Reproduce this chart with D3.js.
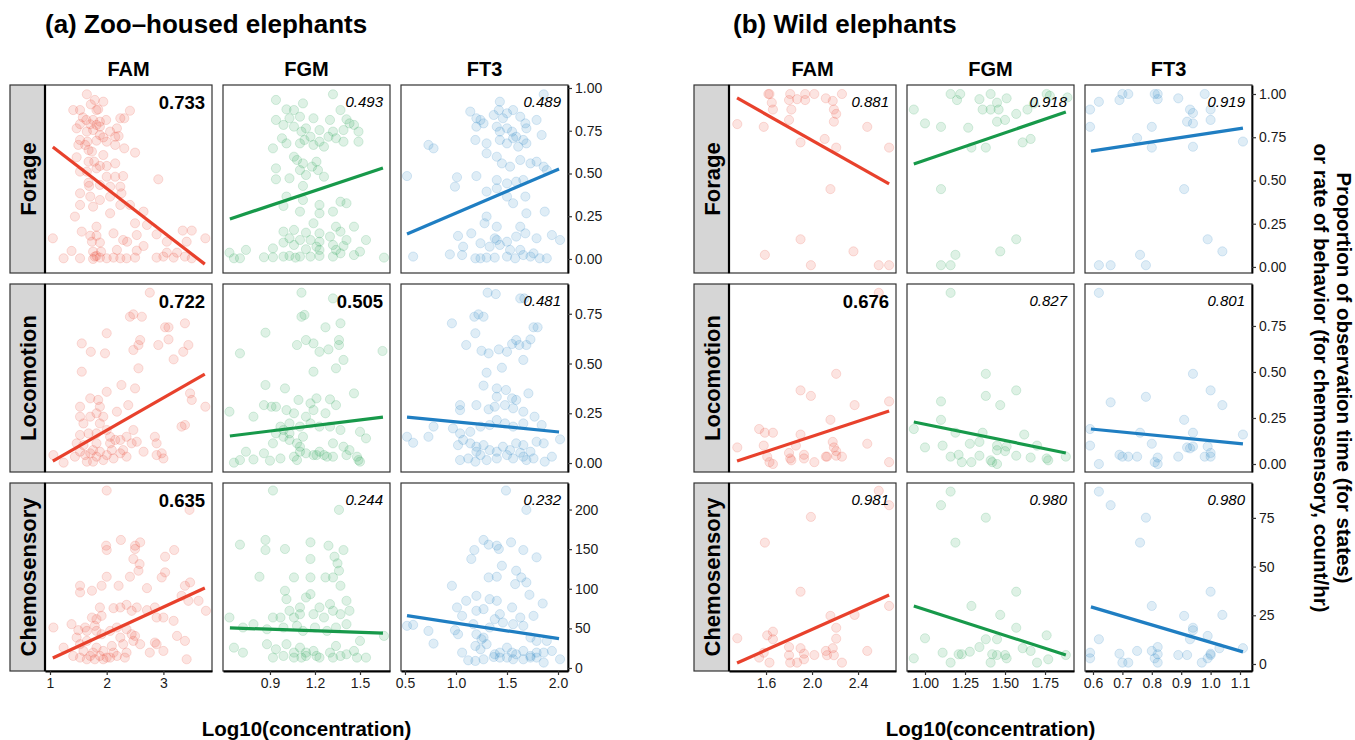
<!DOCTYPE html>
<html>
<head>
<meta charset="utf-8">
<script src="https://cdn.jsdelivr.net/npm/d3@7"></script>
<style>
  body { margin: 0; background: #fff; }
  text { font-family: "Liberation Sans", Arial, Helvetica, sans-serif; }
</style>
</head>
<body>
<div id="chart"></div>
<script>
// 1: DATA
const behaviors = ["Forage", "Locomotion", "Chemosensory"];
const hormones = ["FAM", "FGM", "FT3"];
const hormoneColors = ["#E8412C", "#17994A", "#1F7EC2"];

// zoo-housed elephants, [log10 concentration, behavior]
const zooForageFAM = [[1.65,0.963],[1.72,0.904],[1.79,0.93],[1.85,0.875],[1.41,0.871],[1.53,0.871],[1.82,0.871],[1.94,0.92],[1.58,0.828],[1.64,0.813],[1.76,0.813],[1.88,0.803],[1.99,0.813],[2.24,0.823],[2.31,0.823],[2.41,0.867],[1.53,0.789],[1.71,0.788],[1.82,0.784],[1.88,0.774],[2.06,0.745],[2.18,0.764],[1.47,0.764],[1.65,0.745],[1.76,0.754],[1.88,0.725],[1.94,0.711],[2.15,0.715],[2.21,0.719],[1.53,0.696],[1.66,0.686],[1.82,0.692],[2.00,0.686],[1.50,0.667],[1.62,0.667],[2.15,0.667],[2.31,0.647],[2.50,0.622],[1.68,0.637],[1.74,0.628],[1.94,0.608],[1.47,0.595],[1.68,0.569],[1.78,0.569],[1.88,0.544],[2.00,0.544],[2.15,0.559],[1.82,0.530],[1.53,0.511],[1.65,0.511],[2.15,0.481],[2.29,0.485],[2.00,0.481],[2.91,0.466],[1.68,0.446],[1.69,0.427],[1.88,0.433],[2.06,0.423],[2.24,0.423],[1.53,0.384],[1.71,0.365],[1.88,0.345],[2.06,0.365],[2.26,0.384],[1.53,0.316],[1.76,0.306],[2.24,0.316],[2.41,0.316],[1.44,0.248],[2.06,0.267],[2.65,0.277],[2.50,0.209],[2.71,0.199],[1.82,0.189],[1.56,0.160],[1.82,0.136],[1.71,0.136],[2.12,0.150],[2.29,0.111],[2.36,0.101],[2.53,0.140],[1.88,0.096],[1.05,0.121],[1.74,0.101],[2.88,0.144],[3.34,0.166],[3.50,0.166],[3.06,0.101],[3.41,0.101],[3.74,0.121],[2.65,0.076],[1.38,0.047],[1.76,0.043],[1.90,0.043],[2.18,0.053],[2.53,0.049],[3.06,0.037],[3.24,0.037],[1.24,0.004],[1.53,0.004],[1.79,0.014],[1.88,0.008],[2.00,0.004],[2.12,0.008],[2.24,0.004],[2.35,0.004],[2.50,0.008],[2.88,0.008],[3.00,0.014],[3.18,0.008],[3.38,0.014],[3.50,0.004],[1.82,0.018],[1.76,0.000]];
const zooForageFGM = [[0.94,0.93],[1.01,0.875],[1.06,0.871],[1.12,0.910],[1.32,0.963],[0.94,0.813],[1.03,0.823],[1.10,0.832],[1.19,0.823],[1.30,0.813],[1.37,0.871],[1.41,0.817],[1.43,0.793],[0.99,0.784],[1.06,0.774],[1.11,0.745],[1.14,0.764],[1.23,0.754],[1.32,0.745],[1.39,0.754],[1.46,0.784],[1.49,0.745],[0.92,0.647],[0.98,0.706],[1.13,0.696],[1.17,0.715],[1.23,0.686],[1.29,0.715],[1.34,0.706],[1.39,0.686],[1.49,0.686],[1.01,0.676],[1.10,0.676],[1.19,0.667],[1.26,0.657],[1.06,0.598],[1.08,0.579],[1.12,0.559],[1.18,0.540],[1.21,0.569],[0.94,0.530],[1.10,0.520],[1.22,0.520],[0.94,0.466],[1.03,0.472],[1.14,0.491],[1.26,0.481],[1.12,0.427],[1.01,0.365],[1.12,0.345],[0.99,0.310],[1.23,0.316],[1.37,0.335],[1.41,0.326],[1.10,0.277],[1.23,0.267],[1.32,0.277],[1.19,0.209],[1.34,0.189],[1.46,0.189],[0.99,0.160],[1.06,0.170],[1.14,0.154],[1.23,0.150],[1.30,0.131],[1.37,0.160],[1.03,0.121],[1.10,0.111],[1.17,0.111],[1.23,0.101],[1.41,0.111],[1.54,0.111],[0.99,0.096],[1.06,0.082],[1.21,0.072],[1.32,0.082],[1.39,0.076],[0.92,0.062],[1.14,0.057],[1.23,0.053],[1.34,0.053],[1.50,0.043],[0.63,0.037],[0.74,0.053],[0.86,0.010],[0.92,0.010],[0.99,0.014],[1.07,0.008],[1.10,0.014],[1.17,0.014],[1.32,0.014],[1.37,0.033],[0.66,0.004],[0.70,0.004],[1.46,0.023],[1.66,0.008],[1.03,0.018],[1.23,0.018]];
const zooForageFT3 = [[1.86,0.963],[1.43,0.92],[1.14,0.862],[1.20,0.823],[1.24,0.813],[1.27,0.793],[1.37,0.842],[1.42,0.871],[1.46,0.823],[1.50,0.852],[1.56,0.871],[1.63,0.832],[1.68,0.793],[1.79,0.813],[1.84,0.725],[1.40,0.774],[1.43,0.745],[1.50,0.764],[1.55,0.745],[1.59,0.715],[1.66,0.696],[1.69,0.764],[1.20,0.774],[0.73,0.667],[0.78,0.647],[1.19,0.696],[1.30,0.676],[1.43,0.696],[1.50,0.676],[1.56,0.706],[1.61,0.657],[1.69,0.676],[1.30,0.618],[1.40,0.598],[1.45,0.559],[1.53,0.540],[1.63,0.579],[1.73,0.559],[1.79,0.569],[1.86,0.540],[1.89,0.520],[0.52,0.485],[1.01,0.478],[1.20,0.485],[1.40,0.462],[1.50,0.442],[1.59,0.452],[1.66,0.462],[0.99,0.423],[1.30,0.394],[1.40,0.413],[1.50,0.365],[1.56,0.326],[1.68,0.365],[1.30,0.248],[1.69,0.267],[1.28,0.209],[1.40,0.189],[1.63,0.189],[1.87,0.277],[1.02,0.135],[1.15,0.150],[1.24,0.092],[1.38,0.121],[1.40,0.111],[1.50,0.101],[1.59,0.131],[1.68,0.150],[1.79,0.121],[1.94,0.140],[2.02,0.111],[1.07,0.072],[1.33,0.072],[1.43,0.082],[1.53,0.053],[1.63,0.053],[1.76,0.033],[0.58,0.014],[0.94,0.027],[1.06,0.023],[1.19,0.004],[1.24,0.004],[1.30,0.008],[1.38,0.008],[1.50,0.014],[1.58,0.004],[1.66,0.023],[1.73,0.014],[1.82,0.004],[1.89,0.004]];

const zooLocoFAM = [[2.76,0.856],[2.41,0.735],[2.47,0.747],[2.62,0.735],[2.00,0.652],[1.56,0.601],[1.72,0.559],[1.97,0.551],[2.59,0.618],[2.56,0.593],[2.47,0.568],[2.91,0.593],[3.03,0.682],[3.09,0.682],[3.09,0.621],[3.38,0.702],[3.44,0.593],[3.35,0.559],[3.18,0.521],[2.56,0.476],[1.56,0.459],[2.00,0.358],[2.26,0.392],[2.50,0.375],[1.53,0.283],[1.71,0.325],[1.85,0.317],[1.88,0.283],[2.18,0.258],[2.38,0.291],[3.47,0.350],[3.74,0.283],[3.50,0.317],[1.53,0.233],[1.71,0.233],[1.82,0.250],[1.94,0.233],[1.88,0.199],[1.59,0.199],[1.68,0.149],[1.53,0.141],[1.82,0.149],[2.00,0.166],[2.06,0.132],[2.24,0.116],[2.35,0.132],[2.47,0.166],[2.44,0.099],[2.53,0.107],[2.65,0.057],[2.85,0.132],[2.88,0.099],[3.32,0.183],[3.38,0.191],[2.88,0.040],[3.00,0.023],[2.97,0.049],[1.06,0.040],[1.24,0.002],[1.44,0.032],[1.53,0.057],[1.62,0.040],[1.71,0.049],[1.76,0.065],[1.82,0.032],[1.88,0.057],[1.94,0.015],[2.00,0.040],[2.09,0.065],[2.12,0.023],[2.24,0.049],[2.29,0.065],[2.35,0.032],[1.65,0.007],[1.76,0.007],[1.47,0.099],[1.59,0.090],[1.82,0.099],[2.06,0.099],[2.15,0.116]];
const zooLocoFGM = [[1.11,0.856],[1.32,0.827],[1.11,0.735],[1.13,0.744],[0.87,0.655],[1.27,0.682],[1.37,0.702],[0.70,0.551],[1.08,0.593],[1.14,0.618],[1.19,0.601],[1.29,0.571],[1.23,0.559],[1.36,0.618],[1.36,0.593],[1.39,0.518],[1.65,0.563],[1.34,0.476],[1.19,0.459],[0.87,0.392],[1.00,0.375],[0.91,0.283],[0.86,0.291],[0.94,0.283],[1.09,0.317],[1.17,0.300],[1.21,0.325],[1.30,0.320],[1.34,0.291],[1.46,0.350],[0.63,0.258],[0.79,0.233],[1.01,0.266],[1.06,0.250],[1.14,0.233],[1.19,0.266],[1.27,0.250],[0.97,0.183],[1.03,0.199],[1.10,0.183],[1.17,0.199],[1.23,0.183],[1.30,0.183],[1.37,0.166],[1.50,0.157],[1.54,0.124],[0.74,0.057],[0.86,0.049],[0.92,0.099],[0.99,0.132],[1.03,0.116],[1.08,0.099],[1.10,0.082],[1.12,0.132],[1.14,0.049],[1.19,0.040],[1.23,0.057],[1.28,0.032],[1.32,0.099],[1.39,0.082],[1.43,0.065],[1.48,0.032],[1.50,0.007],[0.66,0.002],[0.70,0.015],[0.79,0.018],[0.90,0.012],[0.97,0.023],[1.06,0.032],[1.08,0.015],[1.10,0.057],[1.21,0.040],[1.26,0.040],[1.32,0.032],[1.41,0.040],[1.49,0.015],[0.94,0.149],[0.99,0.166],[1.03,0.149]];
const zooLocoFT3 = [[1.31,0.856],[1.39,0.849],[1.63,0.827],[1.67,0.827],[0.96,0.702],[1.18,0.735],[1.22,0.747],[1.27,0.735],[1.19,0.652],[1.10,0.593],[1.25,0.564],[1.32,0.551],[1.42,0.571],[1.50,0.559],[1.55,0.598],[1.59,0.618],[1.62,0.593],[1.69,0.593],[1.73,0.621],[1.66,0.518],[1.76,0.682],[1.80,0.682],[1.30,0.454],[1.45,0.479],[1.27,0.389],[1.40,0.375],[1.49,0.367],[1.40,0.333],[1.55,0.325],[1.59,0.317],[1.71,0.350],[1.04,0.291],[1.04,0.266],[1.20,0.291],[1.32,0.270],[1.38,0.283],[1.48,0.291],[1.56,0.275],[1.66,0.258],[0.78,0.183],[0.97,0.174],[1.04,0.149],[1.14,0.157],[1.24,0.183],[1.33,0.191],[1.40,0.216],[1.48,0.199],[1.56,0.183],[1.66,0.199],[1.77,0.233],[1.84,0.191],[0.52,0.132],[0.58,0.102],[0.73,0.132],[1.02,0.090],[1.07,0.116],[1.14,0.099],[1.20,0.082],[1.27,0.090],[1.33,0.065],[1.40,0.057],[1.46,0.082],[1.53,0.065],[1.59,0.099],[1.66,0.090],[1.73,0.057],[1.79,0.107],[1.86,0.099],[2.02,0.119],[1.04,0.015],[1.12,0.023],[1.19,0.007],[1.24,0.040],[1.30,0.015],[1.40,0.023],[1.50,0.040],[1.56,0.023],[1.66,0.032],[1.69,0.015],[1.76,0.023],[1.87,0.007],[1.94,0.032],[1.20,0.057],[1.63,0.052]];

const zooChemoFAM = [[2.00,224.0],[3.46,199.6],[1.99,154.4],[2.00,148.9],[2.25,161.6],[2.50,154.4],[2.59,158.6],[2.50,150.2],[2.47,137.6],[2.58,131.2],[2.56,122.8],[3.03,140.5],[3.19,148.9],[2.41,115.2],[2.00,115.2],[1.53,103.8],[1.91,103.8],[1.74,97.5],[1.53,95.4],[2.21,103.8],[3.03,120.7],[2.97,114.3],[2.71,100.8],[3.47,108.0],[3.38,103.8],[3.62,84.8],[1.38,55.3],[1.50,47.7],[1.62,51.1],[1.74,63.7],[1.82,61.6],[1.79,53.2],[1.91,65.8],[1.88,76.4],[2.12,75.5],[2.24,76.4],[2.35,79.7],[2.44,72.2],[2.53,76.4],[2.71,73.0],[2.85,76.4],[2.88,63.7],[3.00,63.7],[3.18,59.5],[3.32,91.1],[3.44,84.8],[3.75,72.2],[1.06,51.1],[1.24,25.7],[1.47,38.4],[1.53,30.0],[1.59,21.5],[1.65,34.2],[1.71,15.2],[1.76,19.4],[1.82,25.7],[1.88,15.2],[1.94,21.5],[2.00,13.1],[2.09,27.8],[2.12,19.4],[2.24,38.4],[2.29,30.0],[2.35,19.4],[2.44,42.6],[2.47,34.2],[2.59,30.0],[2.76,19.4],[2.85,32.1],[2.88,30.0],[3.00,21.5],[3.24,40.5],[3.38,34.2],[3.41,11.0],[1.41,15.2],[1.53,13.1],[1.65,11.0],[1.79,11.0],[1.94,11.0],[2.06,13.1],[2.18,15.2],[2.32,13.1],[1.91,42.6],[2.06,46.8],[2.18,51.1],[2.35,48.9],[2.50,40.5],[1.65,46.8],[1.82,46.8]];
const zooChemoFGM = [[0.92,224.0],[1.36,199.6],[0.70,155.7],[0.87,161.6],[0.87,148.9],[1.00,150.2],[1.17,158.6],[1.17,137.6],[1.29,154.4],[1.33,140.5],[1.39,148.9],[1.35,132.1],[1.36,122.8],[0.83,115.2],[1.06,114.3],[1.17,114.3],[1.27,114.3],[1.32,114.3],[1.37,103.8],[1.00,97.5],[1.01,86.9],[1.14,89.0],[1.17,93.2],[1.41,84.8],[1.23,76.4],[1.30,80.6],[1.10,76.4],[1.03,72.2],[0.92,63.7],[0.97,63.7],[1.06,63.7],[1.10,67.9],[1.19,67.9],[1.26,63.7],[1.32,72.2],[1.37,67.9],[1.43,72.2],[0.63,63.7],[0.72,51.1],[0.79,55.3],[0.88,48.9],[0.99,51.1],[1.08,53.2],[1.12,46.8],[1.20,51.1],[1.28,46.8],[1.34,51.1],[1.41,55.3],[1.50,34.2],[0.66,25.7],[0.72,19.4],[0.88,30.0],[0.94,23.6],[1.01,30.0],[1.06,19.4],[1.10,25.7],[1.14,15.2],[1.19,21.5],[1.23,13.1],[1.30,19.4],[1.34,27.8],[1.41,17.3],[1.48,13.1],[1.54,13.1],[1.66,40.5],[0.92,13.1],[0.99,15.2],[1.06,13.1],[1.11,13.1],[1.14,19.4],[1.21,15.2],[1.32,13.1],[1.37,15.2],[1.46,21.5]];
const zooChemoFT3 = [[1.49,224.0],[1.69,199.6],[1.27,161.6],[1.32,155.7],[1.18,148.9],[1.15,137.6],[1.40,154.4],[1.42,150.2],[1.54,158.6],[1.66,148.9],[1.79,139.7],[1.59,122.8],[1.64,114.3],[1.32,114.3],[1.40,115.2],[1.45,129.1],[1.58,105.9],[1.69,108.0],[1.72,92.4],[1.20,91.1],[0.96,103.8],[1.10,84.8],[1.33,86.9],[1.40,84.8],[1.01,76.4],[1.06,65.8],[1.20,72.2],[1.27,74.3],[1.38,61.6],[1.43,67.9],[1.55,76.4],[1.63,63.7],[1.76,65.8],[1.85,81.4],[0.78,30.8],[0.99,47.7],[1.02,42.6],[1.17,55.3],[1.20,42.6],[1.27,38.4],[1.33,51.1],[1.46,57.4],[1.56,55.3],[1.66,53.2],[1.73,38.4],[1.79,34.2],[1.89,34.2],[0.52,53.2],[0.58,54.4],[0.73,46.8],[1.06,19.4],[1.19,27.8],[1.24,23.6],[1.30,30.0],[1.38,17.3],[1.43,19.4],[1.50,25.7],[1.55,19.4],[1.59,17.3],[1.66,21.5],[1.73,15.2],[1.79,19.4],[1.86,19.4],[1.94,21.5],[2.02,11.0],[1.12,9.7],[1.19,8.9],[1.27,11.0],[1.37,13.9],[1.43,13.1],[1.50,13.1],[1.56,11.0],[1.66,11.0],[1.73,13.1],[1.79,13.1],[1.86,6.8],[1.25,36.3]];

// wild elephants
const wildForageFAM = [[1.62,1.00],[1.63,1.00],[1.81,1.00],[1.87,0.97],[1.94,1.00],[2.02,1.00],[2.12,0.975],[2.18,0.96],[2.26,1.00],[1.65,0.95],[1.66,0.91],[1.80,0.965],[1.94,0.965],[1.82,0.91],[2.19,0.91],[2.21,0.885],[2.19,0.84],[1.80,0.85],[1.35,0.826],[1.58,0.81],[2.48,0.81],[2.11,0.74],[1.90,0.72],[2.21,0.69],[2.67,0.69],[2.16,0.45],[1.90,0.16],[1.59,0.07],[2.36,0.09],[1.99,0.01],[2.58,0.01],[2.67,0.01]];
const wildForageFGM = [[0.93,0.91],[1.00,0.83],[1.10,0.81],[1.16,1.00],[1.22,1.00],[1.20,0.965],[1.27,0.805],[1.34,0.97],[1.41,1.00],[1.36,0.91],[1.41,0.91],[1.45,0.95],[1.46,0.91],[1.51,0.975],[1.45,0.84],[1.50,0.85],[1.57,0.885],[1.64,0.91],[1.68,0.945],[1.76,1.00],[1.78,0.99],[1.89,0.98],[1.61,0.72],[1.66,0.74],[1.29,0.69],[1.38,0.69],[1.10,0.45],[1.57,0.16],[1.47,0.09],[1.19,0.07],[1.10,0.01],[1.16,0.01]];
const wildForageFT3 = [[0.59,0.91],[0.62,0.955],[0.59,0.81],[0.69,0.965],[0.70,1.00],[0.72,1.00],[0.81,1.00],[0.82,1.00],[0.82,0.97],[0.89,0.975],[0.93,0.91],[0.94,0.89],[0.92,0.84],[0.94,0.83],[0.98,1.00],[1.00,0.91],[1.00,0.85],[0.80,0.81],[0.75,0.745],[0.80,0.69],[0.94,0.695],[1.11,0.725],[0.91,0.45],[0.99,0.16],[1.04,0.09],[0.76,0.07],[0.62,0.01],[0.66,0.01],[0.78,0.01]];
const wildLocoFAM = [[2.58,0.93],[2.21,0.49],[1.90,0.40],[1.99,0.37],[2.37,0.32],[2.67,0.34],[2.16,0.24],[1.54,0.19],[1.59,0.17],[1.66,0.17],[1.35,0.09],[1.58,0.10],[1.90,0.16],[1.86,0.10],[2.18,0.12],[2.19,0.09],[2.21,0.07],[2.48,0.11],[1.80,0.06],[1.61,0.04],[1.81,0.03],[1.93,0.05],[1.93,0.03],[2.12,0.04],[2.13,0.04],[2.21,0.045],[2.26,0.04],[1.63,0.01],[1.66,0.00],[1.82,0.02],[2.02,0.01],[2.67,0.01]];
const wildLocoFGM = [[1.16,0.93],[1.38,0.49],[1.57,0.40],[1.38,0.37],[1.47,0.32],[1.10,0.34],[1.10,0.24],[0.93,0.19],[1.19,0.17],[1.62,0.16],[1.00,0.09],[1.11,0.10],[1.28,0.11],[1.34,0.12],[1.36,0.17],[1.45,0.10],[1.50,0.07],[1.51,0.095],[1.70,0.10],[1.57,0.045],[1.66,0.035],[1.76,0.03],[1.88,0.04],[1.16,0.04],[1.21,0.05],[1.34,0.045],[1.45,0.075],[1.23,0.01],[1.29,0.01],[1.41,0.02],[1.42,0.01],[1.45,0.00],[1.77,0.02]];
const wildLocoFT3 = [[0.62,0.93],[0.66,0.335],[0.78,0.365],[0.94,0.49],[1.00,0.40],[1.04,0.32],[0.91,0.24],[0.59,0.19],[0.76,0.17],[0.94,0.17],[0.80,0.11],[0.59,0.10],[0.69,0.05],[0.70,0.04],[0.72,0.04],[0.75,0.04],[0.81,0.01],[0.82,0.035],[0.82,0.00],[0.89,0.04],[0.92,0.09],[0.93,0.085],[0.94,0.095],[0.98,0.04],[0.99,0.095],[1.00,0.06],[1.00,0.04],[0.62,0.00],[1.11,0.16]];
const wildChemoFAM = [[2.58,88.9],[2.67,81.5],[1.99,75.5],[1.59,62.3],[1.90,37.1],[2.67,29.8],[2.16,24.7],[2.37,25.2],[2.21,18.6],[1.35,13.2],[1.61,14.7],[1.66,16.6],[1.66,12.7],[1.58,5.8],[2.21,13.0],[2.18,8.1],[2.48,6.7],[1.80,8.7],[1.90,8.1],[1.93,5.3],[1.80,4.5],[2.02,4.6],[2.12,6.7],[2.13,4.5],[2.19,4.5],[1.54,3.3],[1.93,2.4],[1.63,0.7],[1.81,0.7],[1.87,0.7],[2.26,0.7]];
const wildChemoFGM = [[1.16,88.5],[1.10,81.5],[1.38,75.1],[1.19,62.3],[1.57,37.1],[1.29,29.8],[1.47,25.2],[1.57,18.6],[1.00,13.2],[1.76,14.7],[1.38,12.7],[1.34,8.7],[1.45,12.7],[1.28,6.3],[1.11,5.8],[1.21,5.0],[1.23,5.0],[1.42,5.0],[1.45,4.6],[1.50,4.6],[1.61,8.1],[1.66,6.7],[1.88,4.6],[0.93,2.9],[1.16,0.7],[1.41,0.7],[1.70,0.7],[1.77,2.4],[1.51,2.9]];
const wildChemoFT3 = [[0.62,88.5],[0.66,81.5],[0.78,75.1],[0.76,62.3],[1.00,37.1],[0.80,29.8],[1.04,25.2],[0.91,24.7],[0.94,18.6],[0.94,17.3],[0.99,14.4],[0.62,12.7],[0.93,12.7],[1.11,8.1],[1.03,8.1],[0.82,8.7],[0.59,5.8],[0.69,5.3],[0.75,6.7],[0.80,6.7],[0.82,5.0],[0.89,4.6],[0.92,4.6],[1.00,4.6],[1.00,5.3],[0.59,2.9],[0.81,2.9],[0.70,0.7],[0.72,0.7],[0.82,0.7],[0.97,0.7],[0.99,2.9]];

// fitted lines [x0, y0, x1, y1] per behavior row, hormone column
const zooFits = [
    [[1.05, 0.655, 3.73, -0.03], [0.633, 0.234, 1.653, 0.532], [0.52, 0.146, 2.01, 0.526]],
    [[1.05, 0.01, 3.73, 0.447], [0.633, 0.136, 1.653, 0.231], [0.52, 0.231, 2.01, 0.156]],
    [[1.05, 12.7, 3.73, 101], [0.633, 50.6, 1.653, 44], [0.52, 66, 2.01, 37]]
];
const wildFits = [
    [[1.348, 0.977, 2.67, 0.48], [0.93, 0.595, 1.88, 0.896], [0.593, 0.67, 1.11, 0.803]],
    [[1.348, 0.016, 2.67, 0.288], [0.93, 0.228, 1.88, 0.06], [0.593, 0.19, 1.11, 0.109]],
    [[1.348, 0.5, 2.67, 35.4], [0.93, 29.8, 1.88, 4.6], [0.593, 29.3, 1.11, 6.2]]
];

const zooStats = [["0.733", "0.493", "0.489"], ["0.722", "0.505", "0.481"], ["0.635", "0.244", "0.232"]];
const zooBold = [[true, false, false], [true, true, false], [true, false, false]];
const wildStats = [["0.881", "0.918", "0.919"], ["0.676", "0.827", "0.801"], ["0.981", "0.980", "0.980"]];
const wildBold = [[false, false, false], [true, false, false], [false, false, false]];

// tick values and labels
const zooXTicks = [[1, 2, 3], [0.9, 1.2, 1.5], [0.5, 1.0, 1.5, 2.0]];
const zooXTickLabels = [["1", "2", "3"], ["0.9", "1.2", "1.5"], ["0.5", "1.0", "1.5", "2.0"]];
const zooYTicks = [[0, 0.25, 0.5, 0.75, 1], [0, 0.25, 0.5, 0.75], [0, 50, 100, 150, 200]];
const zooYTickLabels = [["0.00", "0.25", "0.50", "0.75", "1.00"], ["0.00", "0.25", "0.50", "0.75"], ["0", "50", "100", "150", "200"]];
const wildXTicks = [[1.6, 2.0, 2.4], [1.0, 1.25, 1.5, 1.75], [0.6, 0.7, 0.8, 0.9, 1.0, 1.1]];
const wildXTickLabels = [["1.6", "2.0", "2.4"], ["1.00", "1.25", "1.50", "1.75"], ["0.6", "0.7", "0.8", "0.9", "1.0", "1.1"]];
const wildYTicks = [[0, 0.25, 0.5, 0.75, 1], [0, 0.25, 0.5, 0.75], [0, 25, 50, 75]];
const wildYTickLabels = [["0.00", "0.25", "0.50", "0.75", "1.00"], ["0.00", "0.25", "0.50", "0.75"], ["0", "25", "50", "75"]];

// 2: LAYOUT
const width = 1355, height = 740;
const panelW = 167, panelH = 188, colStep = 178, rowStep = 199, panelTop = 85, stripW = 35;

const groups = [
    {
        key: "zoo", title: "(a) Zoo\u2013housed elephants", left: 45,
        points: [[zooForageFAM, zooForageFGM, zooForageFT3], [zooLocoFAM, zooLocoFGM, zooLocoFT3], [zooChemoFAM, zooChemoFGM, zooChemoFT3]],
        fits: zooFits, stats: zooStats, bold: zooBold,
        xDomains: [[0.912, 3.857], [0.587, 1.70], [0.461, 2.098]],
        yDomains: [[-0.082, 1.0175], [-0.045, 0.8995], [-3.8, 233.5]],
        xTicks: zooXTicks, xTickLabels: zooXTickLabels, yTicks: zooYTicks, yTickLabels: zooYTickLabels
    },
    {
        key: "wild", title: "(b) Wild elephants", left: 729,
        points: [[wildForageFAM, wildForageFGM, wildForageFT3], [wildLocoFAM, wildLocoFGM, wildLocoFT3], [wildChemoFAM, wildChemoFGM, wildChemoFT3]],
        fits: wildFits, stats: wildStats, bold: wildBold,
        xDomains: [[1.278, 2.730], [0.8875, 1.931], [0.5728, 1.1408]],
        yDomains: [[-0.035, 1.052], [-0.0435, 0.978], [-3.6, 92.9]],
        xTicks: wildXTicks, xTickLabels: wildXTickLabels, yTicks: wildYTicks, yTickLabels: wildYTickLabels
    }
];

const svg = d3.select("#chart")
    .append("svg")
    .attr("width", width)
    .attr("height", height);

const defs = svg.append("defs");

groups.forEach(grp => {
    const xScales = grp.xDomains.map(d => d3.scaleLinear().domain(d).range([0, panelW]));
    const yScales = grp.yDomains.map(d => d3.scaleLinear().domain(d).range([panelH, 0]));
    const colX = c => grp.left + c * colStep;
    const rowY = r => panelTop + r * rowStep;

    // title
    svg.append("text")
        .attr("x", grp.key === "zoo" ? 45 : 733)
        .attr("y", 33)
        .style("font-size", "26px")
        .style("font-weight", "bold")
        .text(grp.title);

    // column headers
    hormones.forEach((h, c) => {
        svg.append("text")
            .attr("x", colX(c) + panelW / 2)
            .attr("y", 76)
            .attr("text-anchor", "middle")
            .style("font-size", "20px")
            .style("font-weight", "bold")
            .text(h);
    });

    behaviors.forEach((b, r) => {
        // row strip
        svg.append("rect")
            .attr("x", grp.left - stripW)
            .attr("y", rowY(r))
            .attr("width", stripW)
            .attr("height", panelH)
            .attr("fill", "#D6D6D6")
            .attr("stroke", "#333")
            .attr("stroke-width", 1.2);
        svg.append("text")
            .attr("transform", `translate(${grp.left - stripW / 2 + 8},${rowY(r) + panelH / 2}) rotate(-90)`)
            .attr("text-anchor", "middle")
            .style("font-size", "22px")
            .style("font-weight", "bold")
            .text(b);

        hormones.forEach((h, c) => {
            const xs = xScales[c], ys = yScales[r];
            const g = svg.append("g").attr("transform", `translate(${colX(c)},${rowY(r)})`);
            const clipId = `clip-${grp.key}-${r}-${c}`;
            defs.append("clipPath").attr("id", clipId)
                .append("rect").attr("width", panelW).attr("height", panelH);

            g.append("rect")
                .attr("width", panelW)
                .attr("height", panelH)
                .attr("fill", "#fff");

            const inner = g.append("g").attr("clip-path", `url(#${clipId})`);
            inner.selectAll("circle")
                .data(grp.points[r][c])
                .enter()
                .append("circle")
                .attr("cx", d => xs(d[0]))
                .attr("cy", d => ys(d[1]))
                .attr("r", 4.6)
                .attr("fill", hormoneColors[c])
                .attr("fill-opacity", 0.14)
                .attr("stroke", hormoneColors[c])
                .attr("stroke-opacity", 0.16)
                .attr("stroke-width", 1);

            const f = grp.fits[r][c];
            inner.append("line")
                .attr("x1", xs(f[0])).attr("y1", ys(f[1]))
                .attr("x2", xs(f[2])).attr("y2", ys(f[3]))
                .attr("stroke", hormoneColors[c])
                .attr("stroke-width", 3.2);

            g.append("rect")
                .attr("width", panelW)
                .attr("height", panelH)
                .attr("fill", "none")
                .attr("stroke", "#333")
                .attr("stroke-width", 1.2);

            const isBold = grp.bold[r][c];
            g.append("text")
                .attr("x", panelW - 7)
                .attr("y", isBold ? 24 : 22)
                .attr("text-anchor", "end")
                .style("font-size", isBold ? "18.5px" : "15px")
                .style("font-weight", isBold ? "bold" : "normal")
                .style("font-style", isBold ? "normal" : "italic")
                .text(grp.stats[r][c]);
        });

        // thick edge between strip and first panel
        svg.append("line")
            .attr("x1", grp.left).attr("x2", grp.left)
            .attr("y1", rowY(r)).attr("y2", rowY(r) + panelH)
            .attr("stroke", "#000")
            .attr("stroke-width", 2.2);

        // right axis
        const yTickLabels = grp.yTickLabels[r];
        const yAxis = svg.append("g")
            .attr("transform", `translate(${colX(2) + panelW},${rowY(r)})`)
            .call(d3.axisRight(yScales[r])
                .tickValues(grp.yTicks[r])
                .tickFormat((d, i) => yTickLabels[i])
                .tickSize(4)
                .tickSizeOuter(0)
                .tickPadding(3));
        yAxis.select(".domain").attr("stroke", "#000").attr("stroke-width", 1.8);
        yAxis.selectAll(".tick line").attr("stroke", "#333").attr("stroke-width", 1.2);
        yAxis.selectAll(".tick text")
            .style("font-size", "14px")
            .style("font-family", "'Liberation Sans', Arial, sans-serif")
            .attr("fill", "#1a1a1a");
    });

    // bottom axes
    hormones.forEach((h, c) => {
        const labels = grp.xTickLabels[c];
        const xAxis = svg.append("g")
            .attr("transform", `translate(${colX(c)},${rowY(2) + panelH})`)
            .call(d3.axisBottom(xScales[c])
                .tickValues(grp.xTicks[c])
                .tickFormat((d, i) => labels[i])
                .tickSize(4)
                .tickSizeOuter(0)
                .tickPadding(3));
        xAxis.select(".domain").attr("stroke", "#000").attr("stroke-width", 1.8);
        xAxis.selectAll(".tick line").attr("stroke", "#333").attr("stroke-width", 1.2);
        xAxis.selectAll(".tick text")
            .style("font-size", "14px")
            .style("font-family", "'Liberation Sans', Arial, sans-serif")
            .attr("fill", "#1a1a1a");
    });

    // x-axis label
    svg.append("text")
        .attr("x", grp.left + (2 * colStep + panelW) / 2)
        .attr("y", 736)
        .attr("text-anchor", "middle")
        .style("font-size", "20.5px")
        .style("font-weight", "bold")
        .text("Log10(concentration)");
});

// shared y-axis label on the right
const yLabel = svg.append("g")
    .attr("transform", `translate(1337,378) rotate(90)`);
yLabel.append("text")
    .attr("text-anchor", "middle")
    .attr("y", 0)
    .style("font-size", "20.5px")
    .style("font-weight", "bold")
    .text("Proportion of observation time (for states)");
yLabel.append("text")
    .attr("text-anchor", "middle")
    .attr("y", 23)
    .style("font-size", "20.5px")
    .style("font-weight", "bold")
    .text("or rate of behavior (for chemosensory, count/hr)");
</script>
</body>
</html>
